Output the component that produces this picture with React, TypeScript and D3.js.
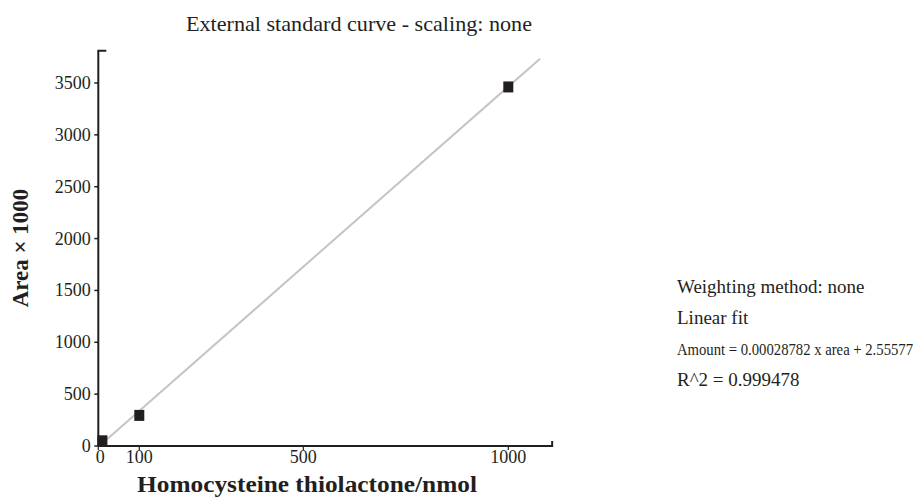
import * as d3 from 'd3';
import * as React from 'react';

const width = 918;
const height = 498;

// calibration points: amount (nmol) vs area x 1000
const amounts = [10, 100, 1000];
const areas = [50, 295, 3462];

const xTicks = [0, 100, 500, 1000];
const yTicks = [0, 500, 1000, 1500, 2000, 2500, 3000, 3500];

// Amount = slope * area + intercept (area in raw units)
const fitSlope = 0.00028782;
const fitIntercept = 2.55577;
const fitAreaRange = [0, 3735];

const title = 'External standard curve - scaling: none';
const xLabel = 'Homocysteine thiolactone/nmol';
const yLabel = 'Area \u00d7 1000';
const notes = [
  'Weighting method: none',
  'Linear fit',
  'Amount = 0.00028782 x area + 2.55577',
  'R^2 = 0.999478',
];

const font = '"Liberation Serif", "DejaVu Serif", serif';
const ink = '#231f20';

export default function App() {
  const x = d3.scaleLinear().domain([0, 1000]).range([98.3, 508.3]);
  const y = d3.scaleLinear().domain([0, 3500]).range([446, 83]);
  const xEnd = 1107;
  const yEnd = 3810;

  const fitPts = fitAreaRange.map(a => [fitSlope * a * 1000 + fitIntercept, a] as [number, number]);
  const line = d3
    .line<[number, number]>()
    .x(d => x(d[0]))
    .y(d => y(d[1]));

  const sq = 10;

  return (
    <svg
      width={width}
      height={height}
      style={{ position: 'absolute', left: 0, top: 0, background: '#fff' }}
      fontFamily={font}
    >
      <text
        x={186}
        y={31}
        fontSize={21}
        fill={ink}
        textLength={346}
        lengthAdjust="spacingAndGlyphs"
      >
        {title}
      </text>

      {/* fit line */}
      <path d={line(fitPts) ?? ''} fill="none" stroke="#c4c4c4" strokeWidth={2} />

      {/* points */}
      {amounts.map((a, i) => (
        <rect
          key={i}
          x={x(a) - sq / 2}
          y={y(areas[i]) - sq / 2 - 0.5}
          width={sq}
          height={sq + 1}
          fill={ink}
        />
      ))}

      {/* axes */}
      <g stroke={ink} fill="none">
        <path d={`M${x(0)},${y(0)}V${y(yEnd)}h8`} strokeWidth={2} />
        <path d={`M${x(0)},${y(0)}H${x(xEnd)}v-5`} strokeWidth={2} />
        {yTicks.map(t => (
          <line key={t} x1={x(0) - 4} x2={x(0)} y1={y(t)} y2={y(t)} strokeWidth={1.5} />
        ))}
        {xTicks.map(t => (
          <line key={t} x1={x(t)} x2={x(t)} y1={y(0)} y2={y(0) + 4} strokeWidth={1.2} />
        ))}
      </g>
      {yTicks.map(t => (
        <text key={t} x={x(0) - 7.5} y={y(t) + 6} textAnchor="end" fontSize={18} fill={ink}>
          {t}
        </text>
      ))}
      {xTicks.map(t => (
        <text key={t} x={x(t) + (t === 0 ? 2 : 0)} y={463} textAnchor="middle" fontSize={18} fill={ink}>
          {t}
        </text>
      ))}

      <text
        x={137}
        y={492}
        fontSize={23}
        fontWeight="bold"
        fill={ink}
        textLength={340}
        lengthAdjust="spacingAndGlyphs"
      >
        {xLabel}
      </text>
      <text
        transform={`translate(28,248) rotate(-90)`}
        textAnchor="middle"
        fontSize={23}
        fontWeight="bold"
        fill={ink}
      >
        {yLabel}
      </text>

      {notes.map((n, i) => (
        <text
          key={i}
          x={677}
          y={293 + i * 31}
          fontSize={i === 2 ? 16 : 19}
          fill={ink}
          textLength={i === 2 ? 236 : undefined}
          lengthAdjust={i === 2 ? 'spacingAndGlyphs' : undefined}
        >
          {n}
        </text>
      ))}
    </svg>
  );
}
